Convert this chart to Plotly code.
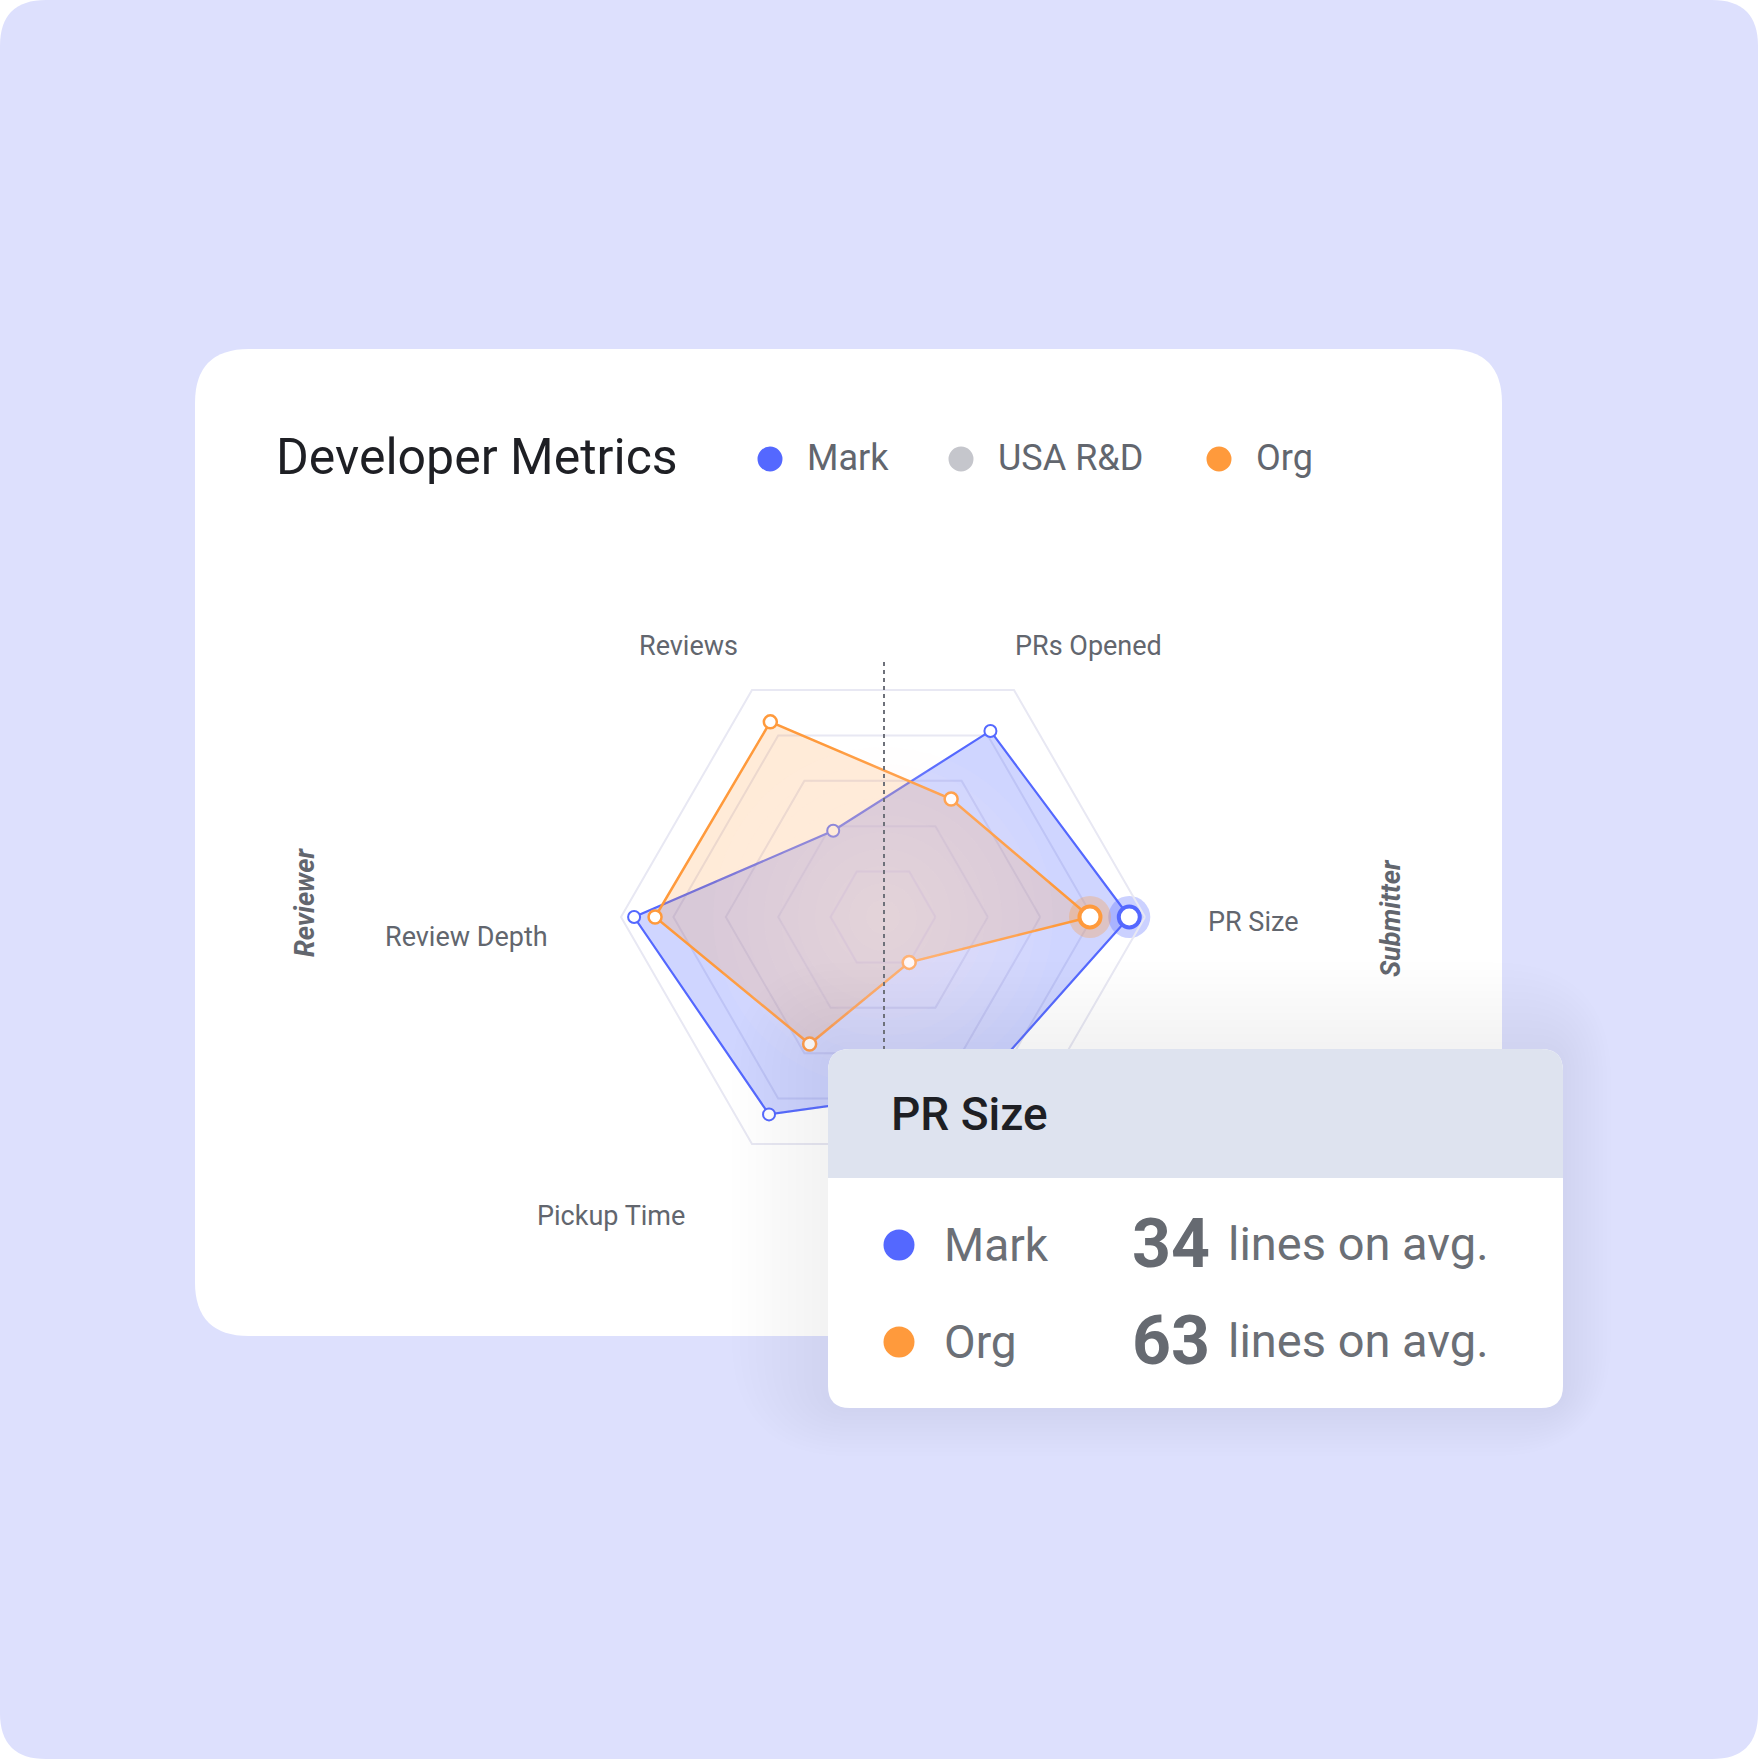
import plotly.graph_objects as go

# ---------------- data ----------------
categories = ["PR Size", "PRs Opened", "Reviews", "Review Depth", "Pickup Time", "Cycle Time"]
mark_values = [94, 82, 38, 95, 87, 74]
org_values = [79, 52, 86, 87, 56, 20]
legend_names = ["Mark", "USA R&D", "Org"]
tooltip_metric = "PR Size"
tooltip_series = ["Mark", "Org"]
tooltip_lines = [34, 63]
group_labels = ["Reviewer", "Submitter"]

# ---------------- style ----------------
W, H = 1758, 1759
BLUE = "#5468FF"
ORANGE = "#FF9A3C"
GREY_DOT = "#C5C6CC"
TEXT = "#62666E"
DARK = "#1E1F24"
FONT = "Roboto"
series_colors = {"Mark": BLUE, "USA R&D": GREY_DOT, "Org": ORANGE}

CX, CY, R = 883, 917, 262


def px(x):
    return x / W


def py(y):
    return 1 - y / H


def rrect(x0, y0, x1, y1, r, corners=(1, 1, 1, 1)):
    tl, tr, br, bl = [r * c for c in corners]
    pts = [
        f"M{px(x0 + tl)},{py(y0)}",
        f"L{px(x1 - tr)},{py(y0)}",
        f"Q{px(x1)},{py(y0)} {px(x1)},{py(y0 + tr)}",
        f"L{px(x1)},{py(y1 - br)}",
        f"Q{px(x1)},{py(y1)} {px(x1 - br)},{py(y1)}",
        f"L{px(x0 + bl)},{py(y1)}",
        f"Q{px(x0)},{py(y1)} {px(x0)},{py(y1 - bl)}",
        f"L{px(x0)},{py(y0 + tl)}",
        f"Q{px(x0)},{py(y0)} {px(x0 + tl)},{py(y0)}",
        "Z",
    ]
    return " ".join(pts)


fig = go.Figure()

theta_closed = categories + categories[:1]

fig.add_trace(go.Scatterpolar(
    r=mark_values + mark_values[:1], theta=theta_closed, name="Mark",
    mode="lines+markers", fill="toself", fillcolor="rgba(84,104,255,0.28)",
    line=dict(color=BLUE, width=2.2),
    marker=dict(size=12, color="white", line=dict(color=BLUE, width=2)),
    showlegend=False,
))
fig.add_trace(go.Scatterpolar(
    r=org_values + org_values[:1], theta=theta_closed, name="Org",
    mode="lines+markers", fill="toself", fillcolor="rgba(255,154,60,0.20)",
    line=dict(color=ORANGE, width=2.5),
    marker=dict(size=13, color="white", line=dict(color=ORANGE, width=2.5)),
    showlegend=False,
))
hi = categories.index(tooltip_metric)
for vals, col, glow in [(mark_values, BLUE, "rgba(84,104,255,0.30)"),
                        (org_values, ORANGE, "rgba(255,154,60,0.30)")]:
    fig.add_trace(go.Scatterpolar(
        r=[vals[hi]], theta=[categories[hi]], mode="markers",
        marker=dict(size=42, color=glow, line=dict(width=0)), showlegend=False,
    ))
    fig.add_trace(go.Scatterpolar(
        r=[vals[hi]], theta=[categories[hi]], mode="markers",
        marker=dict(size=21, color="white", line=dict(color=col, width=4)), showlegend=False,
    ))

fig.update_layout(
    width=W, height=H,
    margin=dict(l=0, r=0, t=0, b=0),
    paper_bgcolor="white", plot_bgcolor="rgba(0,0,0,0)",
    showlegend=False,
    font=dict(family=FONT),
    polar=dict(
        domain=dict(x=[px(CX - R), px(CX + R)], y=[py(CY + R), py(CY - R)]),
        bgcolor="rgba(0,0,0,0)",
        gridshape="linear",
        radialaxis=dict(range=[0, 100], tickvals=[20, 40, 60, 80, 100], showticklabels=False,
                        ticks="", showline=False, gridcolor="#E8E8F3", gridwidth=2),
        angularaxis=dict(rotation=0, direction="counterclockwise", showticklabels=False,
                         ticks="", showgrid=False, linecolor="#E8E8F3", linewidth=2),
    ),
)

shapes = []
shapes.append(dict(type="path", path=rrect(0, 0, W, H, 46), xref="paper", yref="paper",
                   fillcolor="#DDE0FD", line=dict(width=0), layer="below"))
shapes.append(dict(type="path", path=rrect(195, 349, 1502, 1336, 54), xref="paper", yref="paper",
                   fillcolor="white", line=dict(width=0), layer="below"))
# soft warm light glow in the centre, above the fills
for i in range(10, 0, -1):
    rad = i * 17
    shapes.append(dict(type="circle", xref="paper", yref="paper",
                       x0=px(CX - rad), x1=px(CX + rad), y0=py(CY + rad), y1=py(CY - rad),
                       fillcolor="rgba(255,240,228,0.05)", line=dict(width=0), layer="above"))
# dashed hover line
shapes.append(dict(type="line", xref="paper", yref="paper", x0=px(884), x1=px(884),
                   y0=py(662), y1=py(1049), line=dict(color="#6E717A", width=2, dash="4px,4px"),
                   layer="above"))
# tooltip shadow
for i in range(12, 0, -1):
    e = i * 8
    shapes.append(dict(type="path", path=rrect(828 - e, 1049 - e * 0.9, 1563 + e * 0.5, 1408 + e * 0.5, 22 + e),
                       xref="paper", yref="paper", fillcolor="rgba(95,100,130,0.0065)",
                       line=dict(width=0), layer="above"))
shapes.append(dict(type="path", path=rrect(828, 1049, 1563, 1408, 22), xref="paper", yref="paper",
                   fillcolor="white", line=dict(width=0), layer="above"))
shapes.append(dict(type="path", path=rrect(828, 1049, 1563, 1178, 22, corners=(1, 1, 0, 0)),
                   xref="paper", yref="paper", fillcolor="#DEE3EF", line=dict(width=0), layer="above"))

annotations = []


def text(x, y, s, size, color, xanchor="left", angle=0, weight="normal", style="normal"):
    annotations.append(dict(x=px(x), y=py(y), xref="paper", yref="paper", text=s, showarrow=False,
                            xanchor=xanchor, yanchor="middle", textangle=angle,
                            font=dict(family=FONT, size=size, color=color, weight=weight, style=style)))


text(274, 457, "Developer Metrics", 50, DARK)
legend_x = [770, 961, 1219]
for name, lx in zip(legend_names, legend_x):
    shapes.append(dict(type="circle", xref="paper", yref="paper",
                       x0=px(lx - 12.5), x1=px(lx + 12.5), y0=py(459 + 12.5), y1=py(459 - 12.5),
                       fillcolor=series_colors[name], line=dict(width=0), layer="above"))
    text(lx + 35, 458, name, 36, TEXT)

label_pos = [(1253, 922), (1088, 646), (688, 646), (466, 937), (611, 1216), None]
for cat, pos in zip(categories, label_pos):
    if pos is None:
        continue
    text(pos[0], pos[1], cat, 27, TEXT, xanchor="center")

text(305, 903, group_labels[0], 27, TEXT, xanchor="center", angle=-90, weight="bold", style="italic")
text(1391, 918, group_labels[1], 27, TEXT, xanchor="center", angle=-90, weight="bold", style="italic")

text(889, 1114, tooltip_metric, 46, DARK, weight=500)
row_y = [1245, 1342]
for name, val, ry in zip(tooltip_series, tooltip_lines, row_y):
    shapes.append(dict(type="circle", xref="paper", yref="paper",
                       x0=px(899 - 15.5), x1=px(899 + 15.5), y0=py(ry + 15.5), y1=py(ry - 15.5),
                       fillcolor=series_colors[name], line=dict(width=0), layer="above"))
    text(942, ry, name, 46, "#6B6F76")
    text(1130, ry - 1, f"<b>{val}</b>", 68, "#666A71")
    text(1226, ry - 2, "lines on avg.", 47, "#6B6F76")

fig.update_layout(shapes=shapes, annotations=annotations)

fig.write_html("out.html", config={"displayModeBar": False},
               post_script="document.body.style.margin='0';document.body.style.overflow='hidden';")
